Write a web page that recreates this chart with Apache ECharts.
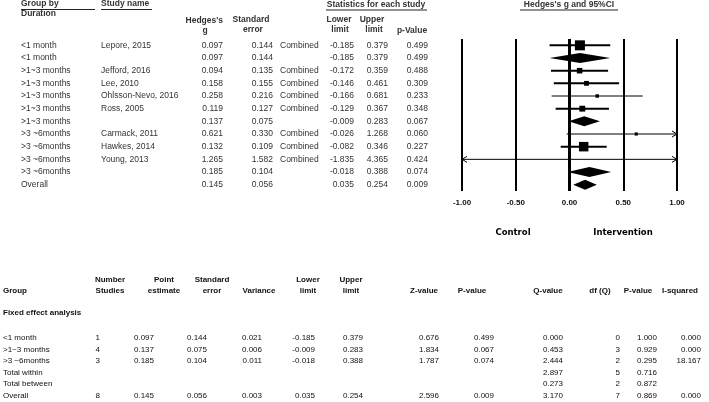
<!DOCTYPE html>
<html><head><meta charset="utf-8">
<script src="https://cdn.jsdelivr.net/npm/echarts@6/dist/echarts.min.js"></script>
<style>html,body{margin:0;padding:0;background:#fff}#c{width:709px;height:402px}</style>
</head><body><div id="c"></div>
<script>
// ---------- Top table / forest data ----------
const groupLabels = ['<1 month','<1 month','>1~3 months','>1~3 months','>1~3 months','>1~3 months','>1~3 months','>3 ~6months','>3 ~6months','>3 ~6months','>3 ~6months','Overall'];
const studyNames = ['Lepore, 2015','','Jefford, 2016','Lee, 2010','Ohlsson-Nevo, 2016','Ross, 2005','','Carmack, 2011','Hawkes, 2014','Young, 2013','',''];
const rowKind = ['study','summary','study','study','study','study','summary','study','study','study','summary','summary'];
const hedgesG = [0.097,0.097,0.094,0.158,0.258,0.119,0.137,0.621,0.132,1.265,0.185,0.145];
const stdErr = [0.144,0.144,0.135,0.155,0.216,0.127,0.075,0.330,0.109,1.582,0.104,0.056];
const lowerLim = [-0.185,-0.185,-0.172,-0.146,-0.166,-0.129,-0.009,-0.026,-0.082,-1.835,-0.018,0.035];
const upperLim = [0.379,0.379,0.359,0.461,0.681,0.367,0.283,1.268,0.346,4.365,0.388,0.254];
const pValues = [0.499,0.499,0.488,0.309,0.233,0.348,0.067,0.060,0.227,0.424,0.074,0.009];
const axisTicks = [-1.00,-0.50,0.00,0.50,1.00];

// ---------- Bottom table data ----------
const bGroups = ['<1 month','>1~3 months','>3 ~6months','Total within','Total between','Overall'];
const bNumber = ['1','4','3','','','8'];
const bPoint = ['0.097','0.137','0.185','','','0.145'];
const bSE = ['0.144','0.075','0.104','','','0.056'];
const bVar = ['0.021','0.006','0.011','','','0.003'];
const bLower = ['-0.185','-0.009','-0.018','','','0.035'];
const bUpper = ['0.379','0.283','0.388','','','0.254'];
const bZ = ['0.676','1.834','1.787','','','2.596'];
const bP = ['0.499','0.067','0.074','','','0.009'];
const bQ = ['0.000','0.453','2.444','2.897','0.273','3.170'];
const bDf = ['0','3','2','5','2','7'];
const bPQ = ['1.000','0.929','0.295','0.716','0.872','0.869'];
const bI2 = ['0.000','0.000','18.167','','','0.000'];

// relative weight of each study within its subgroup (for square size)
const relWeight = hedgesG.map((g, i) => {
  if (rowKind[i] !== 'study') return 0;
  const w = 1 / (stdErr[i] * stdErr[i]);
  let s = 0;
  rowKind.forEach((k, j) => { if (k === 'study' && groupLabels[j] === groupLabels[i]) s += 1 / (stdErr[j] * stdErr[j]); });
  return w / s;
});

const FONT = '"Liberation Sans", Arial, sans-serif';
const TXT = '#333';
const topFont = '8.5px ' + FONT;
const topBold = 'bold 8.5px ' + FONT;

function renderForest(params, api) {
  const i = api.value(1);
  const y = api.coord([0, i])[1];
  const X = v => api.coord([v, i])[0];
  const xmin = X(-1), xmax = X(1);
  const g = hedgesG[i], lo = lowerLim[i], hi = upperLim[i];
  const ch = [];
  if (rowKind[i] === 'summary') {
    ch.push({type: 'polygon', shape: {points: [[X(lo), y], [X(g), y - 5], [X(hi), y], [X(g), y + 5]]}, style: {fill: '#000'}});
  } else {
    const rel = relWeight[i];
    const lw = rel > 0.2 ? 2 : 1;
    const x1 = Math.max(X(lo), xmin), x2 = Math.min(X(hi), xmax);
    ch.push({type: 'line', shape: {x1: x1, y1: y, x2: x2, y2: y}, style: {stroke: '#000', lineWidth: lw}});
    if (lo < -1) ch.push({type: 'polyline', shape: {points: [[xmin + 5, y - 3], [xmin, y], [xmin + 5, y + 3]]}, style: {stroke: '#000', lineWidth: 1, fill: null}});
    if (hi > 1) ch.push({type: 'polyline', shape: {points: [[xmax - 5, y - 3], [xmax, y], [xmax - 5, y + 3]]}, style: {stroke: '#000', lineWidth: 1, fill: null}});
    if (g >= -1 && g <= 1) {
      const s = Math.max(2, 10 * Math.sqrt(rel));
      ch.push({type: 'rect', shape: {x: X(g) - s / 2, y: y - s / 2, width: s, height: s}, style: {fill: '#000'}});
    }
  }
  return {type: 'group', children: ch};
}

function renderTable(params, api) {
  const i = api.value(1);
  const y = api.coord([0, i])[1];
  const t = (x, text, align) => ({type: 'text', x: x, y: y, style: {text: text, fill: TXT, font: topFont, align: align, verticalAlign: 'middle'}});
  const ch = [
    t(21, groupLabels[i], 'left'),
    t(101, studyNames[i], 'left'),
    t(223, hedgesG[i].toFixed(3), 'right'),
    t(273, stdErr[i].toFixed(3), 'right'),
    t(280, rowKind[i] === 'study' ? 'Combined' : '', 'left'),
    t(354, lowerLim[i].toFixed(3), 'right'),
    t(388, upperLim[i].toFixed(3), 'right'),
    t(428, pValues[i].toFixed(3), 'right')
  ];
  return {type: 'group', children: ch};
}

// ---------- graphic (headers + bottom table) ----------
const gfx = [];
function txt(x, y, text, opts) {
  opts = opts || {};
  gfx.push({type: 'text', x: x, y: y, silent: true, style: {text: text, fill: opts.fill || TXT, font: opts.font || topFont, align: opts.align || 'left', verticalAlign: 'middle'}});
}
function uline(x1, x2, y) {
  gfx.push({type: 'line', silent: true, shape: {x1: x1, y1: y, x2: x2, y2: y}, style: {stroke: '#222', lineWidth: 1}});
}
// top headers
txt(21, 4, 'Group by', {font: topBold}); uline(21, 95, 9.5);
txt(21, 14, 'Duration', {font: topBold});
txt(101, 4, 'Study name', {font: topBold}); uline(101, 152, 9.5);
txt(223, 21, "Hedges's", {font: topBold, align: 'right'});
txt(205, 31, 'g', {font: topBold, align: 'center'});
txt(251, 20, 'Standard', {font: topBold, align: 'center'});
txt(253, 30, 'error', {font: topBold, align: 'center'});
txt(376, 5, 'Statistics for each study', {font: topBold, align: 'center'}); uline(326, 427, 10);
txt(339, 20, 'Lower', {font: topBold, align: 'center'});
txt(340, 30, 'limit', {font: topBold, align: 'center'});
txt(372, 20, 'Upper', {font: topBold, align: 'center'});
txt(374, 30, 'limit', {font: topBold, align: 'center'});
txt(412, 31, 'p-Value', {font: topBold, align: 'center'});
txt(569, 5, "Hedges's g and 95%CI", {font: topBold, align: 'center'}); uline(520, 618, 10);
// control / intervention
txt(513, 233, 'Control', {font: 'bold 8.5px "DejaVu Sans", sans-serif', fill: '#000', align: 'center'});
txt(623, 233, 'Intervention', {font: 'bold 8.5px "DejaVu Sans", sans-serif', fill: '#000', align: 'center'});

// bottom table
const bFont = '8px ' + FONT;
const bBold = 'bold 8px ' + FONT;
txt(3, 291, 'Group', {font: bBold, fill: '#111'});
const hdr2 = [
  [110, 'Number', 'Studies'], [164, 'Point', 'estimate'], [212, 'Standard', 'error']
];
hdr2.forEach(h => { txt(h[0], 280, h[1], {font: bBold, fill: '#111', align: 'center'}); txt(h[0], 291, h[2], {font: bBold, fill: '#111', align: 'center'}); });
txt(259, 291, 'Variance', {font: bBold, fill: '#111', align: 'center'});
txt(308, 280, 'Lower', {font: bBold, fill: '#111', align: 'center'}); txt(308, 291, 'limit', {font: bBold, fill: '#111', align: 'center'});
txt(351, 280, 'Upper', {font: bBold, fill: '#111', align: 'center'}); txt(351, 291, 'limit', {font: bBold, fill: '#111', align: 'center'});
txt(424, 291, 'Z-value', {font: bBold, fill: '#111', align: 'center'});
txt(472, 291, 'P-value', {font: bBold, fill: '#111', align: 'center'});
txt(548, 291, 'Q-value', {font: bBold, fill: '#111', align: 'center'});
txt(600, 291, 'df (Q)', {font: bBold, fill: '#111', align: 'center'});
txt(638, 291, 'P-value', {font: bBold, fill: '#111', align: 'center'});
txt(680, 291, 'I-squared', {font: bBold, fill: '#111', align: 'center'});
txt(3, 313, 'Fixed effect analysis', {font: bBold, fill: '#111'});
const bCols = [[100, bNumber], [154, bPoint], [207, bSE], [262, bVar], [315, bLower], [363, bUpper], [439, bZ], [494, bP], [563, bQ], [620, bDf], [657, bPQ], [701, bI2]];
bGroups.forEach((gName, r) => {
  const y = 338 + r * 11.5;
  txt(3, y, gName, {font: bFont, fill: '#111'});
  bCols.forEach(c => { if (c[1][r] !== '') txt(c[0], y, c[1][r], {font: bFont, fill: '#111', align: 'right'}); });
});

const rows = hedgesG.map((g, i) => [g, i]);
const chart = echarts.init(document.getElementById('c'), null, {renderer: 'canvas'});
chart.setOption({
  animation: false,
  backgroundColor: '#fff',
  grid: {left: 462, right: 32, top: 39, height: 152, containLabel: false, outerBoundsMode: 'none'},
  xAxis: {
    type: 'value', min: axisTicks[0], max: axisTicks[axisTicks.length - 1], interval: 0.5,
    axisLine: {show: false}, axisTick: {show: false},
    splitLine: {show: true, lineStyle: {color: '#000', width: 2}},
    axisLabel: {show: true, showMinLabel: true, showMaxLabel: true, margin: 8, color: '#111', fontWeight: 'bold', fontSize: 8, fontFamily: FONT, formatter: v => v.toFixed(2)}
  },
  yAxis: {type: 'value', min: -0.5, max: 11.5, inverse: true, show: false},
  series: [
    {type: 'custom', renderItem: renderForest, data: rows, encode: {x: 0, y: 1}, clip: false, silent: true,
     markLine: {silent: true, symbol: 'none', label: {show: false}, lineStyle: {color: '#000', width: 3, type: 'solid'}, data: [{xAxis: 0}]}},
    {type: 'custom', renderItem: renderTable, data: rows, encode: {x: 0, y: 1}, clip: false, silent: true}
  ],
  graphic: gfx
});
</script></body></html>
